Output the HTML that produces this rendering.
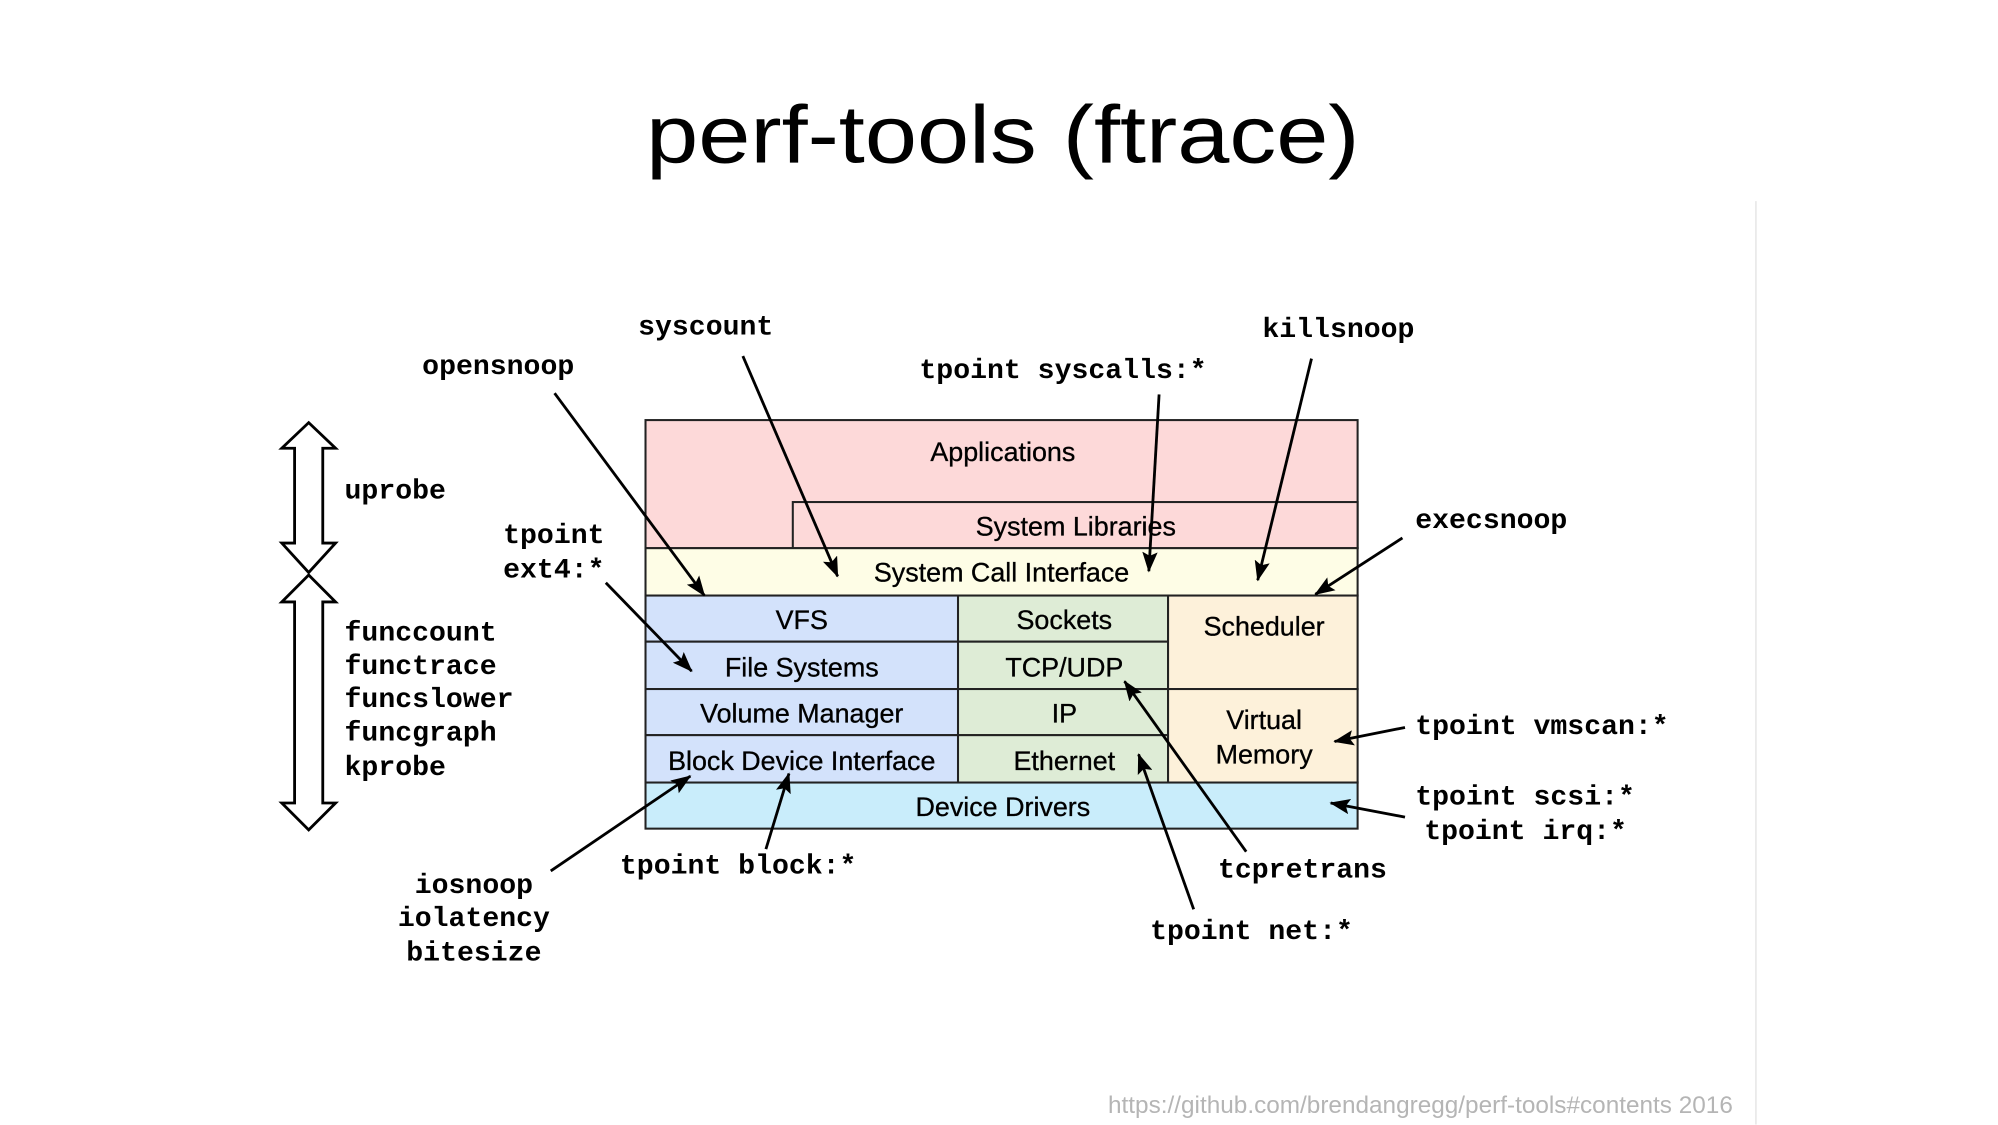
<!DOCTYPE html>
<html><head><meta charset="utf-8"><style>
html,body{margin:0;padding:0;background:#fff;}
svg{display:block;}
.m{font-family:"Liberation Mono",monospace;font-weight:bold;font-size:22px;fill:#000;}
.s{font-family:"Liberation Sans",sans-serif;font-size:21px;fill:#000;stroke:#000;stroke-width:0.25px;}
</style></head><body>
<svg width="1998" height="1125" viewBox="0 0 1560 878.4" xmlns="http://www.w3.org/2000/svg">
<defs>
<marker id="h" viewBox="0 0 16 12" markerWidth="16" markerHeight="12" refX="15" refY="6" orient="auto" markerUnits="userSpaceOnUse"><path d="M0,0 L16,6 L0,12 L3,6 z"/></marker></defs>
<rect width="1560" height="878.4" fill="#fff"/>
<line x1="1371" y1="157" x2="1371" y2="878" stroke="#e6e6e6" stroke-width="1.2"/>
<text x="783" y="127" text-anchor="middle" font-family="Liberation Sans, sans-serif" font-size="64" textLength="557" lengthAdjust="spacingAndGlyphs">perf-tools (ftrace)</text>
<g stroke="#222" stroke-width="1.6">
<rect x="504" y="328" width="556" height="100" fill="#fdd9d9"/>
<rect x="619" y="392" width="441" height="36" fill="#fdd9d9"/>
<rect x="504" y="428" width="556" height="37" fill="#fefde6"/>
<rect x="504" y="465" width="244" height="36" fill="#d3e2fb"/>
<rect x="504" y="501" width="244" height="37" fill="#d3e2fb"/>
<rect x="504" y="538" width="244" height="36" fill="#d3e2fb"/>
<rect x="504" y="574" width="244" height="37" fill="#d3e2fb"/>
<rect x="748" y="465" width="164" height="36" fill="#deecd6"/>
<rect x="748" y="501" width="164" height="37" fill="#deecd6"/>
<rect x="748" y="538" width="164" height="36" fill="#deecd6"/>
<rect x="748" y="574" width="164" height="37" fill="#deecd6"/>
<rect x="912" y="465" width="148" height="73" fill="#fdf1da"/>
<rect x="912" y="538" width="148" height="73" fill="#fdf1da"/>
<rect x="504" y="611" width="556" height="36" fill="#c9edfb"/>
</g>
<g class="s" text-anchor="middle" dominant-baseline="central">
<text x="783" y="353">Applications</text>
<text x="840" y="411">System Libraries</text>
<text x="782" y="447">System Call Interface</text>
<text x="626" y="484">VFS</text>
<text x="626" y="521">File Systems</text>
<text x="626" y="557">Volume Manager</text>
<text x="626" y="594">Block Device Interface</text>
<text x="831" y="484">Sockets</text>
<text x="831" y="521">TCP/UDP</text>
<text x="831" y="557">IP</text>
<text x="831" y="594">Ethernet</text>
<text x="987" y="489">Scheduler</text>
<text x="987" y="562">Virtual</text>
<text x="987" y="589">Memory</text>
<text x="783" y="630">Device Drivers</text>
</g>
<g fill="#fff" stroke="#000" stroke-width="2.2" stroke-linejoin="miter">
<polygon points="241,330 262,350 252,350 252,424 262,424 241,447 220,424 230,424 230,350 220,350"/>
<polygon points="241,449 262,470 252,470 252,627 262,627 241,648 220,627 230,627 230,470 220,470"/>
</g>
<g stroke="#000" stroke-width="2.2" marker-end="url(#h)" fill="none">
<line x1="433" y1="307" x2="550" y2="465"/>
<line x1="580" y1="278" x2="654" y2="450"/>
<line x1="905" y1="308" x2="897" y2="446"/>
<line x1="1024" y1="280" x2="982" y2="453"/>
<line x1="1095" y1="420" x2="1027" y2="464"/>
<line x1="473" y1="455" x2="540" y2="524"/>
<line x1="1097" y1="568" x2="1042" y2="579"/>
<line x1="1097" y1="638" x2="1039" y2="627"/>
<line x1="973" y1="665" x2="878" y2="532"/>
<line x1="932" y1="710" x2="889" y2="589"/>
<line x1="598" y1="663" x2="616" y2="604"/>
<line x1="430" y1="680" x2="539" y2="606"/>
</g>
<g class="m" dominant-baseline="central">
<text x="389" y="287" text-anchor="middle">opensnoop</text>
<text x="551" y="256" text-anchor="middle">syscount</text>
<text x="830" y="290" text-anchor="middle">tpoint syscalls:*</text>
<text x="1045" y="258" text-anchor="middle">killsnoop</text>
<text x="269" y="384">uprobe</text>
<text x="472" y="419" text-anchor="end">tpoint</text>
<text x="472" y="446" text-anchor="end">ext4:*</text>
<text x="269" y="495">funccount</text>
<text x="269" y="521">functrace</text>
<text x="269" y="547">funcslower</text>
<text x="269" y="573">funcgraph</text>
<text x="269" y="600">kprobe</text>
<text x="1105" y="407">execsnoop</text>
<text x="1105" y="568">tpoint vmscan:*</text>
<text x="1105" y="623">tpoint scsi:*</text>
<text x="1112" y="650">tpoint irq:*</text>
<text x="951" y="680">tcpretrans</text>
<text x="898" y="728">tpoint net:*</text>
<text x="484" y="677">tpoint block:*</text>
<text x="370" y="692" text-anchor="middle">iosnoop</text>
<text x="370" y="718" text-anchor="middle">iolatency</text>
<text x="370" y="745" text-anchor="middle">bitesize</text>
</g>
<text x="1353" y="863" text-anchor="end" dominant-baseline="central" font-family="Liberation Sans, sans-serif" font-size="19" fill="#b5b5b5">https://github.com/brendangregg/perf-tools#contents 2016</text>
</svg>
</body></html>
